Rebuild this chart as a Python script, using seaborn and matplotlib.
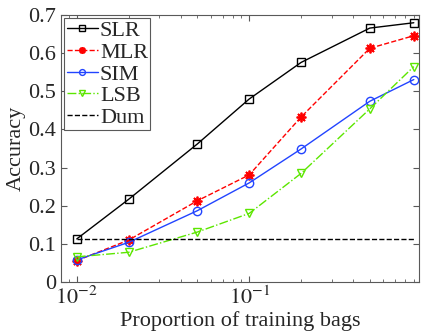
import pandas as pd
import matplotlib
matplotlib.use('Agg')
import matplotlib.pyplot as plt
import seaborn as sns

# data
proportion = [0.01, 0.02, 0.05, 0.1, 0.2, 0.5, 0.9]
slr = [0.113, 0.217, 0.362, 0.480, 0.576, 0.666, 0.680]
mlr = [0.056, 0.110, 0.213, 0.281, 0.433, 0.613, 0.646]
sim = [0.058, 0.104, 0.187, 0.260, 0.349, 0.474, 0.531]
lsb = [0.066, 0.078, 0.131, 0.180, 0.285, 0.454, 0.565]
dum = [0.112] * len(proportion)

sns.set_style("ticks")
plt.rcParams['font.family'] = ['Liberation Serif', 'DejaVu Serif']
plt.rcParams['mathtext.fontset'] = 'stix'

fig = plt.figure(figsize=(4.25, 3.36), dpi=100)
ax = fig.add_axes([0.1435, 0.1607, 0.8415, 0.7943])

asterisk = (8, 2, 0)
series = [
    ('SLR', slr, 'black', '-', 's', 'none'),
    ('MLR', mlr, 'red', '--', asterisk, 'red'),
    ('SIM', sim, '#2244ff', '-', 'o', 'none'),
    ('LSB', lsb, '#5ce600', '-.', 'v', 'none'),
]
for name, vals, col, ls, mk, fc in series:
    df = pd.DataFrame({'x': proportion, 'y': vals})
    sns.lineplot(data=df, x='x', y='y', ax=ax, color=col, linestyle=ls,
                 marker=mk, markersize=7 if mk == asterisk else 6,
                 markerfacecolor=fc, markeredgecolor=col,
                 markeredgewidth=1.3 if mk == asterisk else 1,
                 linewidth=1, label=name)

df = pd.DataFrame({'x': proportion, 'y': dum})
sns.lineplot(data=df, x='x', y='y', ax=ax, color='black', linestyle='--',
             linewidth=1, label='Dum')

ax.set_xscale('log')
ax.set_xlim(0.0081, 0.96)
ax.set_ylim(0, 0.7)
ax.set_yticks([0, 0.1, 0.2, 0.3, 0.4, 0.5, 0.6, 0.7])
ax.set_yticklabels(['0', '0.1', '0.2', '0.3', '0.4', '0.5', '0.6', '0.7'])
ax.set_xticks([0.01, 0.1])
ax.set_xticklabels([r'$10^{-2}$', r'$10^{-1}$'])
ax.tick_params(which='both', direction='in', top=True, right=True,
               labelsize=16, color='0.35')
ax.tick_params(which='major', length=4)
ax.tick_params(which='minor', length=2)
for s in ax.spines.values():
    s.set_color('0.35')
    s.set_linewidth(0.8)

ax.set_xlabel('Proportion of training bags', fontsize=16, labelpad=1)
ax.set_ylabel('Accuracy', fontsize=16, labelpad=2)

leg = ax.legend(loc='upper left', fontsize=16, handlelength=1.4,
                labelspacing=0.05, borderpad=0.1, handletextpad=0.1,
                borderaxespad=0.15, fancybox=False, framealpha=1,
                markerscale=0.7)
leg.get_frame().set_edgecolor('0.35')
leg.get_frame().set_linewidth(0.8)

plt.savefig('out.png', dpi=100)
